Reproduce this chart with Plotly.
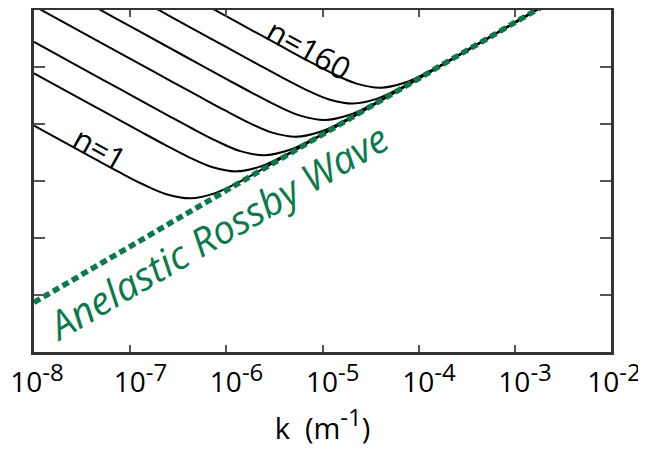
import plotly.graph_objects as go

# ---- data (log10 k [m^-1], log10 frequency [arb.]) ----
curve_labels = ["n=1", "n=2", "n=5", "n=10", "n=20", "n=50", "n=160"]

logk_c1 = [-8.0, -7.374, -7.124, -6.874, -6.624, -6.374, -6.124, -5.874, -5.374, -4.874, -2.6]
logw_c1 = [-3.03, -3.607, -3.835, -4.053, -4.232, -4.304, -4.217, -4.024, -3.55, -3.06, -0.827]

logk_c2 = [-8.0, -7.392, -6.892, -6.642, -6.392, -6.142, -5.892, -5.642, -5.392, -4.892, -4.392, -2.6]
logw_c2 = [-2.11, -2.673, -3.134, -3.362, -3.58, -3.759, -3.831, -3.744, -3.551, -3.077, -2.587, -0.827]

logk_c3 = [-8.0, -7.604, -7.104, -6.604, -6.354, -6.104, -5.854, -5.604, -5.354, -5.104, -4.604, -4.104, -2.6]
logw_c3 = [-1.56, -1.927, -2.39, -2.851, -3.079, -3.297, -3.476, -3.548, -3.461, -3.268, -2.794, -2.304, -0.827]

logk_c4 = [-8.0, -7.273, -6.773, -6.273, -6.023, -5.773, -5.523, -5.273, -5.023, -4.773, -4.273, -3.773, -2.6]
logw_c4 = [-0.93, -1.602, -2.065, -2.526, -2.754, -2.972, -3.151, -3.223, -3.136, -2.943, -2.469, -1.979, -0.827]

logk_c5 = [-8.0, -7.474, -6.974, -6.474, -5.974, -5.724, -5.474, -5.224, -4.974, -4.724, -4.474, -3.974, -3.474, -2.6]
logw_c5 = [-0.36, -0.846, -1.309, -1.772, -2.233, -2.461, -2.679, -2.858, -2.93, -2.843, -2.65, -2.176, -1.686, -0.827]

logk_c6 = [-8.0, -7.181, -6.681, -6.181, -5.681, -5.431, -5.181, -4.931, -4.681, -4.431, -4.181, -3.681, -3.181, -2.6]
logw_c6 = [0.2, -0.558, -1.021, -1.484, -1.945, -2.173, -2.391, -2.57, -2.642, -2.555, -2.362, -1.888, -1.398, -0.827]

logk_c7 = [-8.0, -6.897, -6.397, -5.897, -5.397, -5.147, -4.897, -4.647, -4.397, -4.147, -3.897, -3.397, -2.897, -2.6]
logw_c7 = [0.74, -0.279, -0.742, -1.205, -1.666, -1.894, -2.112, -2.291, -2.363, -2.276, -2.083, -1.609, -1.119, -0.827]

logk_rossby = [-8.0, -2.6]
logw_rossby = [-6.13, -0.827]

x_tick_exp = [-8, -7, -6, -5, -4, -3, -2]
x_tick_pad = [0, 2, 2, 2, 2, 2, 0]   # non-breaking spaces so that "10" sits on the tick
y_tick_exp = [-6, -5, -4, -3, -2]

GREEN = "#0b7a4b"
FONT = "Open Sans"
SUP = "<sup><span style='font-size:24px'>{}</span></sup>"

x_tick_text = ["\u00a0" * p + "10" + SUP.format(str(e)) for e, p in zip(x_tick_exp, x_tick_pad)]

fig = go.Figure()
curves = [(logk_c1, logw_c1), (logk_c2, logw_c2), (logk_c3, logw_c3), (logk_c4, logw_c4),
          (logk_c5, logw_c5), (logk_c6, logw_c6), (logk_c7, logw_c7)]
for name, (lk, lw) in zip(curve_labels, curves):
    fig.add_trace(go.Scatter(
        x=[10 ** v for v in lk], y=[10 ** v for v in lw], mode="lines", name=name,
        line=dict(color="black", width=2, shape="spline", smoothing=1.0),
        showlegend=False, hoverinfo="skip"))

fig.add_trace(go.Scatter(
    x=[10 ** v for v in logk_rossby], y=[10 ** v for v in logw_rossby], mode="lines",
    name="Anelastic Rossby Wave", line=dict(color=GREEN, width=5.5, dash="7px,4px"),
    showlegend=False))

fig.add_annotation(x=-7.317, y=-3.417, xref="x", yref="y", text="n=1", showarrow=False,
                   textangle=29, font=dict(family=FONT, size=31, color="black"))
fig.add_annotation(x=-5.14, y=-1.69, xref="x", yref="y", text="n=160", showarrow=False,
                   textangle=29, font=dict(family=FONT, size=31, color="black"))
fig.add_annotation(x=-6.107, y=-4.878, xref="x", yref="y", text="<i>Anelastic Rossby Wave</i>",
                   showarrow=False, textangle=-30.3,
                   font=dict(family=FONT, size=39, color=GREEN))

axis_common = dict(showline=True, linecolor="#333333", linewidth=2.5, mirror="ticks",
                   ticks="inside", tickcolor="#555555", tickwidth=1.5,
                   showgrid=False, zeroline=False, automargin=False)

fig.update_xaxes(type="log", range=[-8, -2], tickvals=[10 ** e for e in x_tick_exp],
                 ticktext=x_tick_text, ticklen=7, ticklabeloverflow="allow",
                 ticklabelstandoff=4, ticklabelshift=3,
                 tickfont=dict(family=FONT, size=28, color="black"),
                 title=dict(text="k\u00a0\u00a0(m" + SUP.format("-1") + ")", standoff=12,
                            font=dict(family=FONT, size=29, color="black")),
                 **axis_common)
fig.update_yaxes(type="log", range=[-7, -1], tickvals=[10 ** e for e in y_tick_exp],
                 showticklabels=False, ticklen=11, **axis_common)

# the page body adds an 8px offset, so the figure is sized to fit the window
fig.update_layout(width=638, height=442, margin=dict(l=26, r=35, t=2, b=98),
                  plot_bgcolor="white", paper_bgcolor="white")

fig.write_html("out.html")
